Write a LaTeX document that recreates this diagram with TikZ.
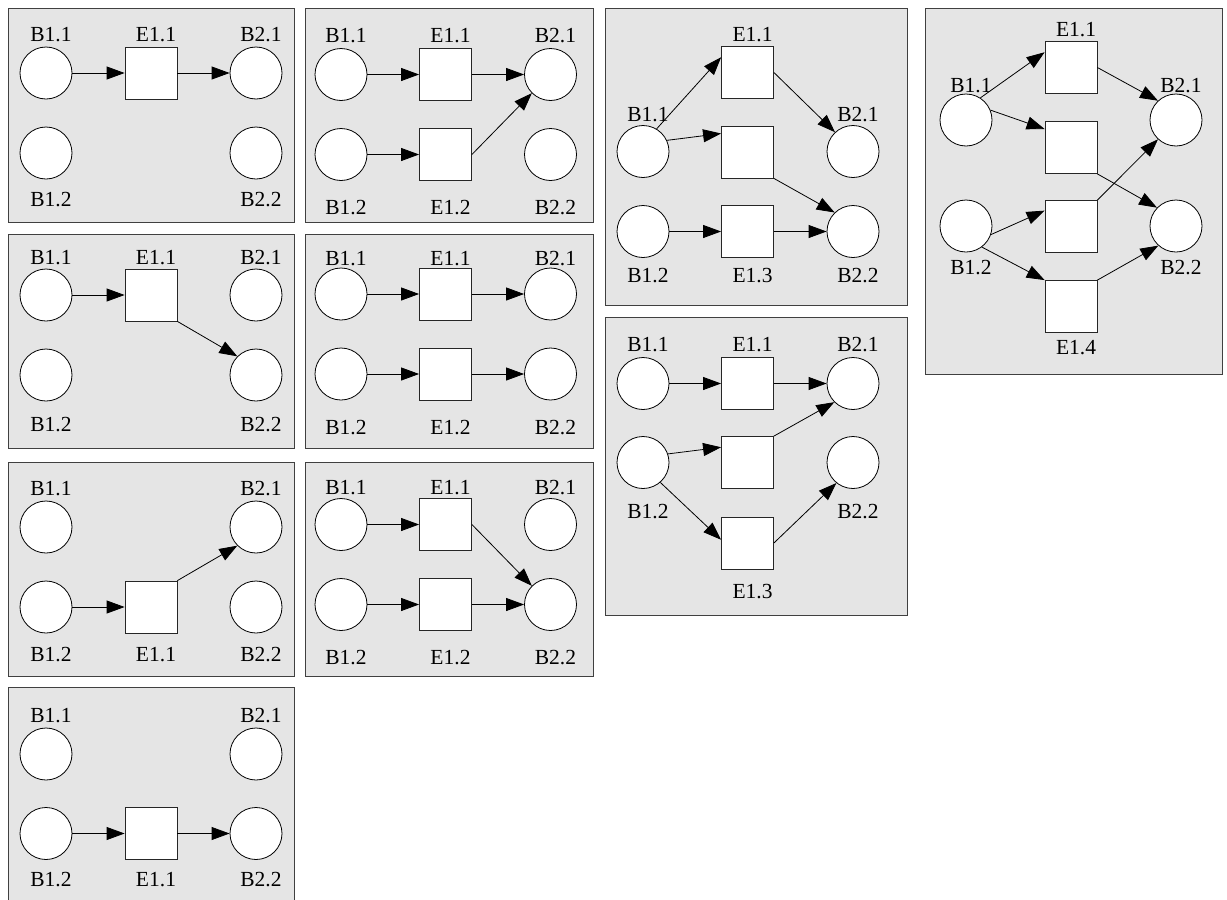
\documentclass[tikz,border=0pt]{standalone}
\usepackage{fontspec}
\setmainfont{Liberation Serif}
\usetikzlibrary{arrows.meta}
\begin{document}
\begin{tikzpicture}[x=1pt,y=-1pt,
  panel/.style={fill=black!10, draw=black!75, line width=1pt},
  place/.style={circle, draw=black, fill=white, line width=0.8pt, minimum size=52pt, inner sep=0pt},
  trans/.style={rectangle, draw=black!85, fill=white, line width=0.8pt, minimum size=52pt, inner sep=0pt},
  lbl/.style={inner sep=0pt, font=\fontsize{21.5}{25}\selectfont},
  arc/.style={line width=0.8pt, -{Triangle[length=18pt,width=13pt]}}
]
\useasboundingbox (0,0) rectangle (1227,900);

% ---------- panel a ----------
\draw[panel] (8,8) rectangle (294,222);
\node[place] (a-b11) at (46,73) {};
\node[place] (a-b12) at (46,153) {};
\node[place] (a-b21) at (256,73) {};
\node[place] (a-b22) at (256,153) {};
\node[trans] (a-e11) at (151,73) {};
\node[lbl] (a-lb11) at (51,35) {B1.1};
\node[lbl] (a-le11) at (156,35) {E1.1};
\node[lbl] (a-lb21) at (261,35) {B2.1};
\node[lbl] (a-lb12) at (51,200) {B1.2};
\node[lbl] (a-lb22) at (261,200) {B2.2};
\draw[arc] (a-b11) -- (a-e11);
\draw[arc] (a-e11) -- (a-b21);

% ---------- panel b ----------
\draw[panel] (8,234) rectangle (294,448);
\node[place] (b-b11) at (46,295) {};
\node[place] (b-b12) at (46,375) {};
\node[place] (b-b21) at (256,295) {};
\node[place] (b-b22) at (256,375) {};
\node[trans] (b-e11) at (151,295) {};
\node[lbl] (b-lb11) at (51,258) {B1.1};
\node[lbl] (b-le11) at (156,258) {E1.1};
\node[lbl] (b-lb21) at (261,258) {B2.1};
\node[lbl] (b-lb12) at (51,425) {B1.2};
\node[lbl] (b-lb22) at (261,425) {B2.2};
\draw[arc] (b-b11) -- (b-e11);
\draw[arc] (b-e11.south east) -- (b-b22.135);

% ---------- panel c ----------
\draw[panel] (8,462) rectangle (294,676);
\node[place] (c-b11) at (46,527) {};
\node[place] (c-b12) at (46,607) {};
\node[place] (c-b21) at (256,527) {};
\node[place] (c-b22) at (256,607) {};
\node[trans] (c-e11) at (151,607) {};
\node[lbl] (c-lb11) at (51,489) {B1.1};
\node[lbl] (c-lb21) at (261,489) {B2.1};
\node[lbl] (c-lb12) at (51,655) {B1.2};
\node[lbl] (c-le11) at (156,655) {E1.1};
\node[lbl] (c-lb22) at (261,655) {B2.2};
\draw[arc] (c-b12) -- (c-e11);
\draw[arc] (c-e11.north east) -- (c-b21.225);

% ---------- panel d ----------
\draw[panel] (8,687) rectangle (294,903);
\node[place] (d-b11) at (46,754) {};
\node[place] (d-b12) at (46,833.5) {};
\node[place] (d-b21) at (256,754) {};
\node[place] (d-b22) at (256,833.5) {};
\node[trans] (d-e11) at (151,833.5) {};
\node[lbl] (d-lb11) at (51,716) {B1.1};
\node[lbl] (d-lb21) at (261,716) {B2.1};
\node[lbl] (d-lb12) at (51,880) {B1.2};
\node[lbl] (d-le11) at (156,880) {E1.1};
\node[lbl] (d-lb22) at (261,880) {B2.2};
\draw[arc] (d-b12) -- (d-e11);
\draw[arc] (d-e11) -- (d-b22);

% ---------- panel e ----------
\draw[panel] (305,8) rectangle (593,222);
\node[place] (e-b11) at (341,74.5) {};
\node[place] (e-b12) at (341,154.5) {};
\node[place] (e-b21) at (550.5,74.5) {};
\node[place] (e-b22) at (550.5,154.5) {};
\node[trans] (e-e11) at (445.5,74.5) {};
\node[trans] (e-e12) at (445.5,154.5) {};
\node[lbl] (e-lb11) at (346,35.5) {B1.1};
\node[lbl] (e-le11) at (450.5,35.5) {E1.1};
\node[lbl] (e-lb21) at (555.5,35.5) {B2.1};
\node[lbl] (e-lb12) at (346,207.5) {B1.2};
\node[lbl] (e-le12) at (450.5,207.5) {E1.2};
\node[lbl] (e-lb22) at (555.5,207.5) {B2.2};
\draw[arc] (e-b11) -- (e-e11);
\draw[arc] (e-e11) -- (e-b21);
\draw[arc] (e-b12) -- (e-e12);
\draw[arc] (e-e12.east) -- (e-b21.225);

% ---------- panel f ----------
\draw[panel] (305,234) rectangle (593,448);
\node[place] (f-b11) at (341,294) {};
\node[place] (f-b12) at (341,374) {};
\node[place] (f-b21) at (550.5,294) {};
\node[place] (f-b22) at (550.5,374) {};
\node[trans] (f-e11) at (445.5,294) {};
\node[trans] (f-e12) at (445.5,374) {};
\node[lbl] (f-lb11) at (346,258.5) {B1.1};
\node[lbl] (f-le11) at (450.5,258.5) {E1.1};
\node[lbl] (f-lb21) at (555.5,258.5) {B2.1};
\node[lbl] (f-lb12) at (346,427.5) {B1.2};
\node[lbl] (f-le12) at (450.5,427.5) {E1.2};
\node[lbl] (f-lb22) at (555.5,427.5) {B2.2};
\draw[arc] (f-b11) -- (f-e11);
\draw[arc] (f-e11) -- (f-b21);
\draw[arc] (f-b12) -- (f-e12);
\draw[arc] (f-e12) -- (f-b22);

% ---------- panel g ----------
\draw[panel] (305,462) rectangle (593,676);
\node[place] (g-b11) at (341,524.5) {};
\node[place] (g-b12) at (341,604.5) {};
\node[place] (g-b21) at (550.5,524.5) {};
\node[place] (g-b22) at (550.5,604.5) {};
\node[trans] (g-e11) at (445.5,524.5) {};
\node[trans] (g-e12) at (445.5,604.5) {};
\node[lbl] (g-lb11) at (346,488) {B1.1};
\node[lbl] (g-le11) at (450.5,488) {E1.1};
\node[lbl] (g-lb21) at (555.5,488) {B2.1};
\node[lbl] (g-lb12) at (346,658) {B1.2};
\node[lbl] (g-le12) at (450.5,658) {E1.2};
\node[lbl] (g-lb22) at (555.5,658) {B2.2};
\draw[arc] (g-b11) -- (g-e11);
\draw[arc] (g-b12) -- (g-e12);
\draw[arc] (g-e12) -- (g-b22);
\draw[arc] (g-e11.east) -- (g-b22.135);

% ---------- panel h ----------
\draw[panel] (605,8) rectangle (907,305);
\node[place] (h-b11) at (643,151.5) {};
\node[place] (h-b12) at (643,231.5) {};
\node[place] (h-b21) at (853,151.5) {};
\node[place] (h-b22) at (853,231.5) {};
\node[trans] (h-e11) at (747.5,72.5) {};
\node[trans] (h-e12) at (747.5,152) {};
\node[trans] (h-e13) at (747.5,231.5) {};
\node[lbl] (h-le11) at (752.5,35) {E1.1};
\node[lbl] (h-lb11) at (648,115) {B1.1};
\node[lbl] (h-lb21) at (858,115) {B2.1};
\node[lbl] (h-lb12) at (648,276) {B1.2};
\node[lbl] (h-le13) at (752.5,276) {E1.3};
\node[lbl] (h-lb22) at (858,276) {B2.2};
\draw[arc] (h-b11.59) -- (h-e11.150);
\draw[arc] (h-b11.25) -- (h-e12.145);
\draw[arc] (h-e11.east) -- (h-b21.133);
\draw[arc] (h-e12.south east) -- (h-b22.134);
\draw[arc] (h-b12) -- (h-e13);
\draw[arc] (h-e13) -- (h-b22);

% ---------- panel i ----------
\draw[panel] (605,317) rectangle (907,615);
\node[place] (i-b11) at (643,383.5) {};
\node[place] (i-b12) at (643,462.5) {};
\node[place] (i-b21) at (853,383.5) {};
\node[place] (i-b22) at (853,462.5) {};
\node[trans] (i-e11) at (747.5,383.5) {};
\node[trans] (i-e12) at (747.5,462.5) {};
\node[trans] (i-e13) at (747.5,543) {};
\node[lbl] (i-lb11) at (648,345) {B1.1};
\node[lbl] (i-le11) at (752.5,345) {E1.1};
\node[lbl] (i-lb21) at (858,345) {B2.1};
\node[lbl] (i-lb12) at (648,511.5) {B1.2};
\node[lbl] (i-lb22) at (858,511.5) {B2.2};
\node[lbl] (i-le13) at (752.5,591.5) {E1.3};
\draw[arc] (i-b11) -- (i-e11);
\draw[arc] (i-e11) -- (i-b21);
\draw[arc] (i-b12.19) -- (i-e12.150);
\draw[arc] (i-e12.north east) -- (i-b21.225);
\draw[arc] (i-b12.311) -- (i-e13.173);
\draw[arc] (i-e13.east) -- (i-b22.231);

% ---------- panel j ----------
\draw[panel] (925,8) rectangle (1222,374);
\node[place] (j-b11) at (966,120) {};
\node[place] (j-b12) at (966,226) {};
\node[place] (j-b21) at (1176,120) {};
\node[place] (j-b22) at (1176,226) {};
\node[trans] (j-e11) at (1071,67.5) {};
\node[trans] (j-e12) at (1071,147.5) {};
\node[trans] (j-e13) at (1071,226.5) {};
\node[trans] (j-e14) at (1071,306.5) {};
\node[lbl] (j-le11) at (1076,30) {E1.1};
\node[lbl] (j-lb11) at (971,85.5) {B1.1};
\node[lbl] (j-lb21) at (1181,85.5) {B2.1};
\node[lbl] (j-lb12) at (971,267.5) {B1.2};
\node[lbl] (j-lb22) at (1181,267.5) {B2.2};
\node[lbl] (j-le14) at (1076,347.5) {E1.4};
\draw[arc] (j-b11.57) -- (j-e11.150);
\draw[arc] (j-b11.22) -- (j-e12.145);
\draw[arc] (j-e11.east) -- (j-b21.133);
\draw[arc] (j-e12.south east) -- (j-b22.136);
\draw[arc] (j-e13.north east) -- (j-b21.227);
\draw[arc] (j-b12.341) -- (j-e13.149);
\draw[arc] (j-b12.307) -- (j-e14.north west);
\draw[arc] (j-e14.north east) -- (j-b22.228);
\end{tikzpicture}
\end{document}
